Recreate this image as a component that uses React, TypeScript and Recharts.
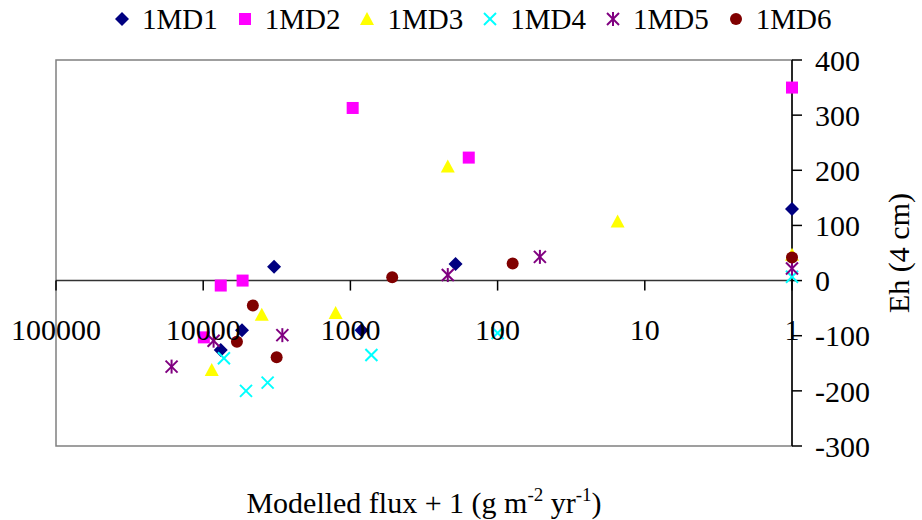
import { ReferenceArea, ReferenceLine, Scatter, ScatterChart, XAxis, YAxis } from 'recharts'

// series names and values (flux + 1 on a log axis, Eh in mV)
const seriesNames = ['1MD1', '1MD2', '1MD3', '1MD4', '1MD5', '1MD6']

const md1Flux = [3300, 5450, 7600, 840, 193, 1]
const md1Eh = [25, -90, -126, -90, 30, 130]
const md2Flux = [7600, 5400, 9900, 965, 157, 1]
const md2Eh = [-9, 0, -103, 313, 223, 350]
const md3Flux = [4000, 8750, 1260, 218, 15.3, 1]
const md3Eh = [-62, -162, -59, 207, 107, 47]
const md4Flux = [7230, 3650, 5120, 720, 100, 1]
const md4Eh = [-141, -185, -200, -135, -95, 7]
const md5Flux = [2900, 8500, 16400, 218, 51.6, 1]
const md5Eh = [-99, -109, -156, 10, 43, 22]
const md6Flux = [4600, 5900, 3170, 520, 79, 1]
const md6Eh = [-45, -111, -139, 6, 31, 42]

const fluxTicks = [1, 10, 100, 1000, 10000, 100000]
const ehTicks = [-300, -200, -100, 0, 100, 200, 300, 400]

const FONT = '"Liberation Serif", "Times New Roman", serif'
const W = 922
const H = 520
const PLOT_TOP = 60
const PLOT_LEFT = 56
const X_AXIS_H = 74
const Y_AXIS_W = 130
const Y_MIN = -300
const Y_MAX = 400
const plotH = H - PLOT_TOP - X_AXIS_H
// excel draws the category axis where Eh = 0
const zeroY = PLOT_TOP + (plotH * Y_MAX) / (Y_MAX - Y_MIN)

const toPoints = (flux: number[], eh: number[]) => flux.map((f, i) => ({ flux: f, eh: eh[i] }))

const seriesData = [
  toPoints(md1Flux, md1Eh),
  toPoints(md2Flux, md2Eh),
  toPoints(md3Flux, md3Eh),
  toPoints(md4Flux, md4Eh),
  toPoints(md5Flux, md5Eh),
  toPoints(md6Flux, md6Eh),
]

const colors = ['#000080', '#ff00ff', '#ffff00', '#00ffff', '#800080', '#800000']
const markers = ['diamond', 'square', 'triangle', 'cross', 'star', 'circle']

function Marker({ cx, cy, kind, color }: { cx: number; cy: number; kind: string; color: string }) {
  if (cx == null || cy == null) return null
  switch (kind) {
    case 'diamond':
      return <polygon points={`${cx},${cy - 7} ${cx + 7},${cy} ${cx},${cy + 7} ${cx - 7},${cy}`} fill={color} />
    case 'square':
      return <rect x={cx - 6} y={cy - 6} width={12} height={12} fill={color} />
    case 'triangle':
      return <polygon points={`${cx},${cy - 7} ${cx + 7},${cy + 6} ${cx - 7},${cy + 6}`} fill={color} />
    case 'cross':
      return (
        <g stroke={color} strokeWidth={2}>
          <line x1={cx - 6} y1={cy - 6} x2={cx + 6} y2={cy + 6} />
          <line x1={cx - 6} y1={cy + 6} x2={cx + 6} y2={cy - 6} />
        </g>
      )
    case 'star':
      return (
        <g stroke={color} strokeWidth={2}>
          <line x1={cx - 6} y1={cy - 6} x2={cx + 6} y2={cy + 6} />
          <line x1={cx - 6} y1={cy + 6} x2={cx + 6} y2={cy - 6} />
          <line x1={cx} y1={cy - 7} x2={cx} y2={cy + 7} />
        </g>
      )
    default:
      return <circle cx={cx} cy={cy} r={6} fill={color} />
  }
}

function FluxTick(props: any) {
  const { x, payload } = props
  return (
    <g>
      <line x1={x} x2={x} y1={zeroY} y2={zeroY + 10} stroke='#000' strokeWidth={1.5} />
      <text x={x} y={zeroY + 49} textAnchor='middle' dominantBaseline='central' fontFamily={FONT} fontSize={30} fill='#000'>
        {payload.value}
      </text>
    </g>
  )
}

function FluxLabel(props: any) {
  const vb = props.viewBox || { x: PLOT_LEFT, y: H - X_AXIS_H, width: W - Y_AXIS_W - PLOT_LEFT }
  return (
    <text x={vb.x + vb.width / 2} y={vb.y + 67} textAnchor='middle' fontFamily={FONT} fontSize={30} fill='#000'>
      Modelled flux + 1 (g m
      <tspan fontSize={19} dy={-12}>-2</tspan>
      <tspan dy={12}> yr</tspan>
      <tspan fontSize={19} dy={-12}>-1</tspan>
      <tspan dy={12}>)</tspan>
    </text>
  )
}

function EhLabel(props: any) {
  const vb = props.viewBox || { x: W - Y_AXIS_W, y: PLOT_TOP, height: plotH }
  const x = vb.x + 106
  const y = vb.y + vb.height / 2
  return (
    <text x={x} y={y} transform={`rotate(-90 ${x} ${y})`} textAnchor='middle' dominantBaseline='central' fontFamily={FONT} fontSize={30} fill='#000'>
      Eh (4 cm)
    </text>
  )
}

function LegendRow() {
  return (
    <div style={{ position: 'absolute', top: 0, left: 115, height: 38, display: 'flex', alignItems: 'center', fontFamily: FONT, fontSize: 29, whiteSpace: 'nowrap' }}>
      {seriesNames.map((name, i) => (
        <div key={name} style={{ display: 'flex', alignItems: 'center', marginRight: 20 }}>
          <svg width={14} height={16} style={{ marginRight: 13 }}>
            <Marker cx={7} cy={8} kind={markers[i]} color={colors[i]} />
          </svg>
          <span>{name}</span>
        </div>
      ))}
    </div>
  )
}

export default function App() {
  return (
    <div style={{ position: 'absolute', left: 0, top: 0, width: W, height: H, background: '#fff' }}>
      <ScatterChart width={W} height={H} margin={{ top: PLOT_TOP, right: 0, bottom: 0, left: PLOT_LEFT }}>
        <XAxis
          dataKey='flux'
          type='number'
          scale='log'
          domain={[1, 100000]}
          reversed
          ticks={fluxTicks}
          interval={0}
          axisLine={false}
          tickLine={false}
          tick={<FluxTick />}
          height={X_AXIS_H}
          label={<FluxLabel />}
        />
        <YAxis
          dataKey='eh'
          type='number'
          orientation='right'
          domain={[Y_MIN, Y_MAX]}
          ticks={ehTicks}
          interval={0}
          width={Y_AXIS_W}
          axisLine={{ stroke: '#000', strokeWidth: 1.5 }}
          tickLine={{ stroke: '#000', strokeWidth: 1.5 }}
          tickSize={10}
          tickMargin={13}
          tick={{ fontFamily: FONT, fontSize: 30, fill: '#000' }}
          label={<EhLabel />}
        />
        <ReferenceArea x1={1} x2={100000} y1={Y_MIN} y2={Y_MAX} fill='none' fillOpacity={0} stroke='#808080' strokeWidth={1.5} />
        <ReferenceLine y={0} stroke='#333' strokeWidth={1.5} />
        {seriesData.map((points, i) => (
          <Scatter
            key={seriesNames[i]}
            name={seriesNames[i]}
            data={points}
            fill={colors[i]}
            isAnimationActive={false}
            shape={(p: any) => <Marker cx={p.cx} cy={p.cy} kind={markers[i]} color={colors[i]} />}
          />
        ))}
      </ScatterChart>
      <LegendRow />
    </div>
  )
}
